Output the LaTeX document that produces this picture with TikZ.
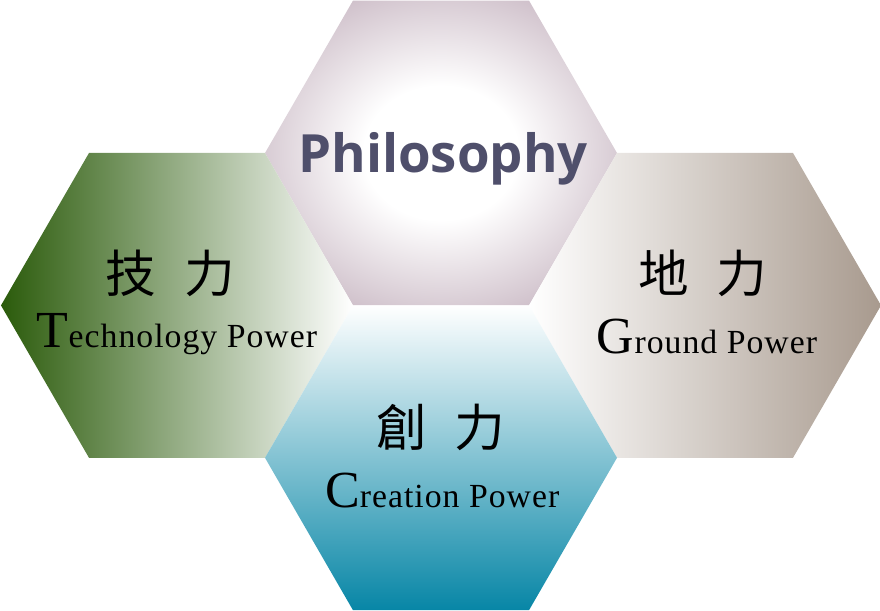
\documentclass[tikz,border=0pt]{standalone}
\usepackage{fontspec}
\setmainfont{Liberation Serif}[LetterSpace=3]
\newfontfamily\philfont{Open Sans}
\newfontfamily\cjkfont{Noto Sans CJK TC}
\usetikzlibrary{shapes, positioning}
\definecolor{techgreen}{HTML}{2B5B0B}
\definecolor{groundtaupe}{HTML}{A89A8E}
\definecolor{creationteal}{HTML}{0786A6}
\definecolor{philmauve}{HTML}{C2AFBC}
\definecolor{philtext}{HTML}{4F4F6B}
\pgfdeclareradialshading{philglow}{\pgfpoint{0bp}{0bp}}{color(0bp)=(white); color(11bp)=(white); color(33bp)=(philmauve); color(50bp)=(philmauve)}
\newcommand{\bigini}[2]{{\fontsize{37}{40}\selectfont #1}{\fontsize{24}{28}\selectfont #2}}
\newcommand{\kanji}[2]{{\cjkfont\fontsize{36}{40}\selectfont #1\hspace{0.55em}#2}}
\tikzset{
	hexcell/.style={regular polygon, regular polygon sides=6, minimum size=8.8cm, inner sep=0pt, outer sep=0pt},
	celltext/.style={inner sep=0pt, align=center}
}

\begin{document}
\begin{tikzpicture}
				\useasboundingbox (0,0) rectangle (22,-15.275);
				
				\node [hexcell, shading=philglow] (phil) at (11.025,-3.825) {};
				\node [hexcell, on grid, below left=3.81cm and 6.6cm of phil,
					left color=techgreen, right color=white] (tech) {};
				\node [hexcell, on grid, below right=3.81cm and 6.6cm of phil,
					left color=white, right color=groundtaupe] (ground) {};
				\node [hexcell, on grid, below=7.62cm of phil,
					top color=white, bottom color=creationteal] (creation) {};
				
				\node [celltext, anchor=base, text=philtext] (philname)
					at ([xshift=0.05cm, yshift=-0.5cm]phil.center)
					{\philfont\bfseries\fontsize{37.5}{44}\selectfont Philosophy};
				
				\node [celltext] (techcjk) at ([xshift=-0.17cm, yshift=0.8cm]tech.center) {\kanji{技}{力}};
				\node [celltext, anchor=base] (techname) at ([yshift=-1.05cm]tech.center) {\bigini{T}{echnology Power}};
				
				\node [celltext] (groundcjk) at ([xshift=-0.05cm, yshift=0.8cm]ground.center) {\kanji{地}{力}};
				\node [celltext, anchor=base] (groundname) at ([xshift=0.05cm, yshift=-1.2cm]ground.center) {\bigini{G}{round Power}};
				
				\node [celltext] (creationcjk) at ([yshift=0.75cm]creation.center) {\kanji{創}{力}};
				\node [celltext, anchor=base] (creationname) at ([xshift=0.03cm, yshift=-1.25cm]creation.center) {\bigini{C}{reation Power}};
			\end{tikzpicture}
\end{document}
